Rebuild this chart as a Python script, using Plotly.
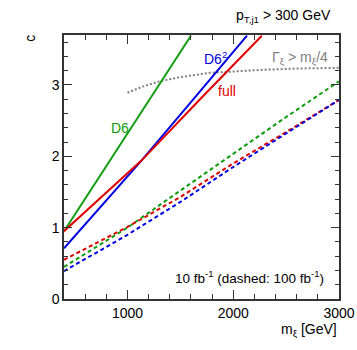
import plotly.graph_objects as go

# --- datos ---
# lineas solidas (10 fb^-1)
m_d6 = [400, 800, 1200, 1600]
c_d6 = [0.95, 1.86, 2.77, 3.69]

m_d6sq = [400, 700, 1132, 1600, 2130]
c_d6sq = [0.71, 1.21, 1.94, 2.76, 3.69]

m_full = [400, 700, 1132, 1700, 2270]
c_full = [0.95, 1.36, 1.94, 2.82, 3.69]

# lineas discontinuas (100 fb^-1)
m_dash = [400, 1000, 1500, 2000, 2500, 3000]
c_d6_100 = [0.45, 1.00, 1.52, 2.04, 2.55, 3.05]
c_full_100 = [0.55, 1.01, 1.43, 1.90, 2.34, 2.79]
c_d6sq_100 = [0.39, 0.90, 1.36, 1.85, 2.32, 2.79]

# limite de anchura
m_ancho = [1000, 1150, 1300, 1500, 1780, 2000, 2250, 2600, 3000]
c_ancho = [2.89, 2.98, 3.05, 3.11, 3.17, 3.19, 3.21, 3.23, 3.24]

VERDE = '#109c10'
ROJO = '#e00000'
AZUL = '#0000e0'
GRIS = '#808080'
FUENTE = 'Liberation Sans, Arial, sans-serif'

fig = go.Figure()

curvas = [
    (m_dash, c_d6_100, VERDE, '4px,3px'),
    (m_dash, c_full_100, ROJO, '4px,3px'),
    (m_dash, c_d6sq_100, AZUL, '4px,3px'),
    (m_ancho, c_ancho, GRIS, '2px,2px'),
    (m_d6, c_d6, VERDE, 'solid'),
    (m_d6sq, c_d6sq, AZUL, 'solid'),
    (m_full, c_full, ROJO, 'solid'),
]
for xs, ys, color, estilo in curvas:
    fig.add_trace(go.Scatter(x=xs, y=ys, mode='lines',
                             line=dict(color=color, width=2, dash=estilo),
                             showlegend=False, hoverinfo='skip'))

def texto(x, y, t, color, ref='data', xanchor='center', size=14, angle=0):
    fig.add_annotation(x=x, y=y, text=t, showarrow=False,
                       xref='x' if ref == 'data' else 'paper',
                       yref='y' if ref == 'data' else 'paper',
                       xanchor=xanchor, yanchor='middle', textangle=angle,
                       font=dict(family=FUENTE, size=size, color=color))

texto(928, 2.39, 'D6', VERDE)
texto(1836, 3.38, 'D6<sup>2</sup>', AZUL)
texto(1941, 2.92, 'full', ROJO)
texto(2631, 3.38, 'Γ<sub>ξ</sub> > m<sub>ξ</sub>/4', GRIS)
texto(2152, 0.31, '10 fb<sup>-1</sup> (dashed: 100 fb<sup>-1</sup>)', 'black', size=13.5)
texto(0.978, 1.072, 'p<sub>T,j1</sub> > 300 GeV', 'black', ref='paper', xanchor='right')
texto(1.0, -0.118, 'm<sub>ξ</sub> [GeV]', 'black', ref='paper', xanchor='right')
texto(-0.124, 0.989, 'c', 'black', ref='paper', angle=-90)

ejes = dict(showline=True, mirror='allticks', linecolor='#333333', linewidth=1.5,
            ticks='inside', tickcolor='#333333', showgrid=False, zeroline=False,
            automargin=False,
            tickfont=dict(family=FUENTE, size=14, color='black'))

fig.update_xaxes(range=[400, 3000], dtick=1000, tick0=0, ticklen=9,
                 minor=dict(dtick=200, tick0=0, ticklen=5, ticks='inside',
                            tickcolor='#333333'), **ejes)
fig.update_yaxes(range=[0, 3.7], dtick=1, tick0=0, ticklen=8,
                 minor=dict(dtick=0.2, tick0=0, ticklen=4, ticks='inside',
                            tickcolor='#333333'), **ejes)

fig.update_layout(width=357, height=350, plot_bgcolor='white', paper_bgcolor='white',
                  margin=dict(l=64, r=18, t=35, b=51),
                  font=dict(family=FUENTE, size=14, color='black'))

# quitar el margen por defecto del body para que la figura empiece en (0, 0)
fig.write_html('out.html', config={'displayModeBar': False},
               post_script="document.body.style.margin='0';")
